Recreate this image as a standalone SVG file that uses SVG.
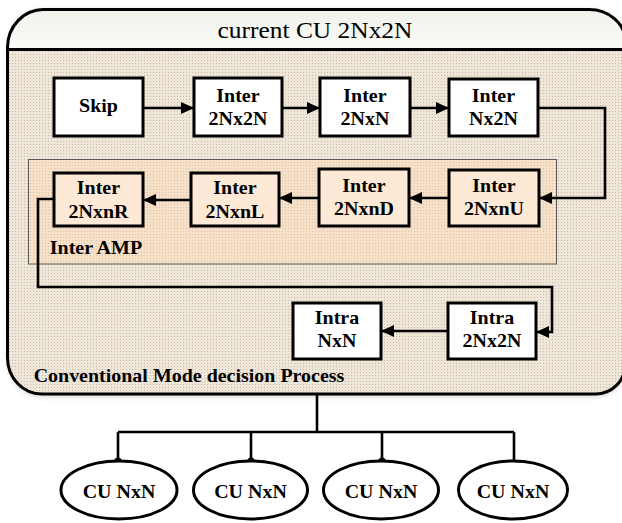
<svg xmlns="http://www.w3.org/2000/svg" width="622" height="523" viewBox="0 0 622 523">
  <defs>
    <style>
      .frame { fill: none; stroke: #000; stroke-width: 3; }
      .box { stroke: #000; stroke-width: 3; }
      .white { fill: #fff; }
      .peach { fill: #fde9d5; }
      .conn { fill: none; stroke: #000; stroke-width: 2.6; }
      .arrow { marker-end: url(#head); }
      .lbl { font-family: "Liberation Serif", "Times New Roman", serif; font-weight: bold; font-size: 18px; text-anchor: middle; fill: #000;
             transform-box: fill-box; transform-origin: center; transform: scaleX(1.11); }
      .title { font-family: "Liberation Serif", "Times New Roman", serif; font-size: 22.5px; text-anchor: middle; fill: #000;
               transform-box: fill-box; transform-origin: center; transform: scaleX(1.13); }
      .cu { fill: #fff; stroke: #000; stroke-width: 3; }
    </style>
    <pattern id="dotsBody" width="3" height="3" patternUnits="userSpaceOnUse">
      <rect width="3" height="3" fill="#efe6da"/>
      <rect width="1" height="1" fill="#cbbba7"/>
    </pattern>
    <pattern id="dotsAmp" width="3" height="3" patternUnits="userSpaceOnUse">
      <rect width="3" height="3" fill="#f6e0c8"/>
      <rect width="1" height="1" fill="#dcc4aa"/>
    </pattern>
    <linearGradient id="titleFill" x1="0" y1="0" x2="0" y2="1">
      <stop offset="0" stop-color="#f1f1ec"/>
      <stop offset="1" stop-color="#fbfbf8"/>
    </linearGradient>
    <filter id="soft" x="-5%" y="-5%" width="110%" height="115%">
      <feGaussianBlur stdDeviation="2.5"/>
    </filter>
    <marker id="head" viewBox="0 0 13 12" markerWidth="13" markerHeight="12" refX="13" refY="6" orient="auto" markerUnits="userSpaceOnUse">
      <path d="M0,0 L13,6 L0,12 Z" fill="#000"/>
    </marker>
  </defs>

  <rect width="622" height="523" fill="#fff"/>

  <!-- outer container: current CU (right edge runs just past the canvas) -->
  <g id="current-cu">
    <path d="M7.5,360 V48 A36,38 0 0 1 44,9.5 H589 A36,31 0 0 1 625,41 V365 A29.5,29 0 0 1 595,397 H42 A34.5,36 0 0 1 7.5,360 Z" fill="#b5aca2" opacity="0.45" filter="url(#soft)"/>
    <path d="M7.5,358 V48 A36,38 0 0 1 44,9.5 H589 A36,31 0 0 1 625,41 V365 A29.5,29 0 0 1 595,394 H42 A34.5,36 0 0 1 7.5,358 Z" fill="url(#dotsBody)"/>
    <path d="M7.5,49.5 V48 A36,38 0 0 1 44,9.5 H589 A36,31 0 0 1 625,41 V49.5 Z" fill="url(#titleFill)"/>
    <path class="frame" d="M7.5,358 V48 A36,38 0 0 1 44,9.5 H589 A36,31 0 0 1 625,41 V365 A29.5,29 0 0 1 595,394 H42 A34.5,36 0 0 1 7.5,358 Z"/>
    <line x1="7.5" y1="49.5" x2="625" y2="49.5" stroke="#000" stroke-width="3.2"/>
    <text class="title" x="315" y="38">current CU 2Nx2N</text>
    <text class="lbl" x="189" y="382">Conventional Mode decision Process</text>
  </g>

  <!-- Inter AMP region -->
  <g id="inter-amp">
    <rect x="28.5" y="159.5" width="528" height="104.5" fill="url(#dotsAmp)" stroke="#5a5a5a" stroke-width="1"/>
    <text class="lbl" x="96" y="254">Inter AMP</text>
  </g>

  <!-- connectors -->
  <g id="connectors">
    <path class="conn arrow" d="M143,108 H194"/>
    <path class="conn arrow" d="M282,108 H320"/>
    <path class="conn arrow" d="M410,108 H449"/>
    <path class="conn arrow" d="M538,108 H605 V198 H539"/>
    <path class="conn arrow" d="M449,198 H409"/>
    <path class="conn arrow" d="M319,198 H279"/>
    <path class="conn arrow" d="M191,200 H143"/>
    <path class="conn arrow" d="M54,199 H38 V287 H552 V332 H536"/>
    <path class="conn arrow" d="M448,331 H381"/>
    <path class="conn" d="M317,394 V432 M118,432 H514 M118,432 V461 M251,432 V461 M382,432 V461 M514,432 V461"/>
    <circle cx="118" cy="461" r="3.6" fill="#000"/>
    <circle cx="251" cy="461" r="3.6" fill="#000"/>
    <circle cx="382" cy="461" r="3.6" fill="#000"/>
  </g>

  <!-- mode nodes -->
  <g id="skip">
    <rect class="box white" x="54" y="78" width="89" height="58"/>
    <text class="lbl" x="98.5" y="112">Skip</text>
  </g>
  <g id="inter-2Nx2N">
    <rect class="box white" x="194" y="78" width="88" height="58"/>
    <text class="lbl" x="238" y="102">Inter</text>
    <text class="lbl" x="238" y="125">2Nx2N</text>
  </g>
  <g id="inter-2NxN">
    <rect class="box white" x="320" y="78" width="90" height="58"/>
    <text class="lbl" x="365" y="102">Inter</text>
    <text class="lbl" x="365" y="125">2NxN</text>
  </g>
  <g id="inter-Nx2N">
    <rect class="box white" x="449" y="79" width="89" height="57"/>
    <text class="lbl" x="493.5" y="102">Inter</text>
    <text class="lbl" x="493.5" y="125">Nx2N</text>
  </g>
  <g id="inter-2NxnU">
    <rect class="box peach" x="449" y="170" width="90" height="56"/>
    <text class="lbl" x="494" y="192">Inter</text>
    <text class="lbl" x="494" y="215">2NxnU</text>
  </g>
  <g id="inter-2NxnD">
    <rect class="box peach" x="319" y="169" width="90" height="57"/>
    <text class="lbl" x="364" y="192">Inter</text>
    <text class="lbl" x="364" y="215">2NxnD</text>
  </g>
  <g id="inter-2NxnL">
    <rect class="box peach" x="191" y="173" width="88" height="53"/>
    <text class="lbl" x="235" y="194">Inter</text>
    <text class="lbl" x="235" y="218">2NxnL</text>
  </g>
  <g id="inter-2NxnR">
    <rect class="box peach" x="54" y="173" width="89" height="53"/>
    <text class="lbl" x="98.5" y="194">Inter</text>
    <text class="lbl" x="98.5" y="218">2NxnR</text>
  </g>
  <g id="intra-2Nx2N">
    <rect class="box white" x="448" y="303" width="88" height="56"/>
    <text class="lbl" x="492" y="324">Intra</text>
    <text class="lbl" x="492" y="347">2Nx2N</text>
  </g>
  <g id="intra-NxN">
    <rect class="box white" x="293" y="303" width="88" height="56"/>
    <text class="lbl" x="337" y="324">Intra</text>
    <text class="lbl" x="337" y="347">NxN</text>
  </g>

  <!-- sub-CUs -->
  <g id="cu-1">
    <ellipse class="cu" cx="119" cy="490" rx="58" ry="29"/>
    <text class="lbl" x="119" y="498">CU NxN</text>
  </g>
  <g id="cu-2">
    <ellipse class="cu" cx="250.5" cy="490" rx="57" ry="29"/>
    <text class="lbl" x="250.5" y="498">CU NxN</text>
  </g>
  <g id="cu-3">
    <ellipse class="cu" cx="381" cy="490" rx="57.5" ry="29"/>
    <text class="lbl" x="381" y="498">CU NxN</text>
  </g>
  <g id="cu-4">
    <ellipse class="cu" cx="513" cy="490" rx="54.5" ry="29"/>
    <text class="lbl" x="513" y="498">CU NxN</text>
  </g>
</svg>
